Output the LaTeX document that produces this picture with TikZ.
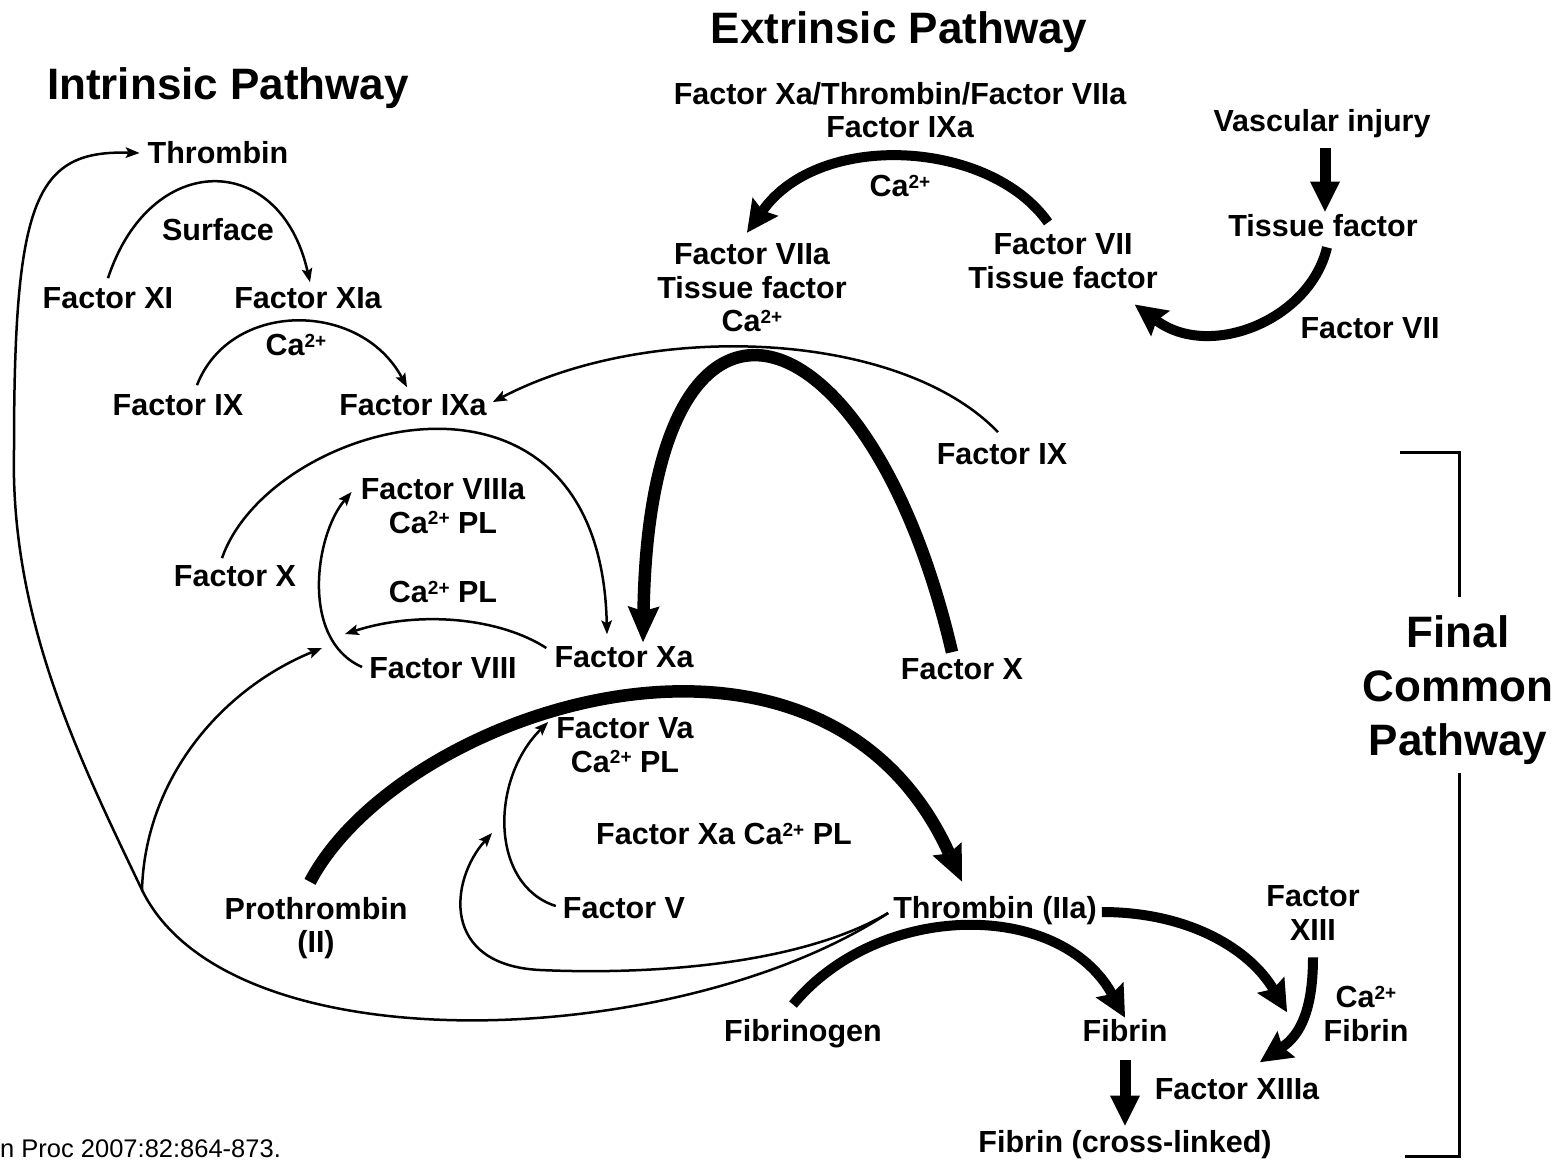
\documentclass[tikz,border=0pt]{standalone}
\usepackage{fontspec}
\setmainfont{Liberation Sans}
\usetikzlibrary{arrows.meta}
\newcommand\catwo{Ca\raisebox{8.5pt}{\fontsize{19}{19}\selectfont 2+}}
\begin{document}
\begin{tikzpicture}[x=1pt,y=-1pt,
  lab/.style={font=\fontsize{30.5}{33.5}\selectfont\bfseries, align=center, inner sep=0pt},
  ttl/.style={font=\fontsize{44}{54}\selectfont\bfseries, align=center, inner sep=0pt},
  thinarr/.style={line width=2.5pt, -{Stealth[length=14pt,width=11pt,inset=3pt,line width=0pt]}},
  thinln/.style={line width=2.5pt},
  bigarr/.style={line width=10pt, -{Stealth[length=32pt,width=32pt,inset=5pt,line width=0pt]}},
  hugearr/.style={line width=12.5pt, -{Stealth[length=36pt,width=32pt,inset=5pt,line width=0pt]}},
  straightarr/.style={line width=11pt, -{Triangle[length=30pt,width=30pt,line width=0pt]}},
  brk/.style={line width=3pt}
]
\useasboundingbox (0,0) rectangle (1564,1160);

% titles
\node[ttl] (ext) at (899,32) {Extrinsic Pathway};
\node[ttl] (intr) at (228,88) {Intrinsic Pathway};
\node[ttl] (fcp) at (1458,690) {Final\\Common\\Pathway};

% extrinsic
\node[lab] (fxatv) at (900,110) {Factor Xa/Thrombin/Factor VIIa\\Factor IXa};
\node[lab] (vasc) at (1322,124) {Vascular injury};
\node[lab] (tf) at (1323,226) {Tissue factor};
\node[lab] (cae) at (900,186) {\catwo};
\node[lab] (fviitf) at (1063,261) {Factor VII\\Tissue factor};
\node[lab] (fviiatf) at (752,288) {Factor VIIa\\Tissue factor\\\catwo};
\node[lab] (fvii2) at (1370,328) {Factor VII};

% intrinsic
\node[lab] (thr1) at (218,153) {Thrombin};
\node[lab] (surf) at (218,230) {Surface};
\node[lab] (fxi) at (108,298) {Factor XI};
\node[lab] (fxia) at (308,298) {Factor XIa};
\node[lab] (ca1) at (296,345) {\catwo};
\node[lab] (fix1) at (178,405) {Factor IX};
\node[lab] (fixa) at (413,405) {Factor IXa};
\node[lab] (fix2) at (1002,454) {Factor IX};
\node[lab] (fviiia) at (443,506) {Factor VIIIa\\\catwo{} PL};
\node[lab] (fx1) at (235,576) {Factor X};
\node[lab] (capl) at (443,592) {\catwo{} PL};
\node[lab] (fviii) at (443,668) {Factor VIII};
\node[lab] (fxa) at (624,657) {Factor Xa};
\node[lab] (fx2) at (962,669) {Factor X};

% common
\node[lab] (fva) at (625,745) {Factor Va\\\catwo{} PL};
\node[lab] (fxacapl) at (724,834) {Factor Xa \catwo{} PL};
\node[lab] (proth) at (316,928) {Prothrombin\\(II)};
\node[lab] (fv) at (624,908) {Factor V};
\node[lab] (thr2) at (995,911) {Thrombin (IIa)};
\node[lab] (fxiii) at (1313,913) {Factor\\XIII};
\node[lab] (cafib) at (1366,1014) {\catwo\\Fibrin};
\node[lab] (fibg) at (803,1034) {Fibrinogen};
\node[lab] (fib) at (1125,1031) {Fibrin};
\node[lab] (fxiiia) at (1237,1089) {Factor XIIIa};
\node[lab] (fibcl) at (1125,1145) {Fibrin (cross-linked)};

\node[font=\fontsize{25.5}{26}\selectfont, anchor=base west, inner sep=0pt] (cite) at (0,1157) {n Proc 2007:82:864-873.};

% free ends
\coordinate (tgt8) at (345,634);
\coordinate (tgt8b) at (322,648);
\coordinate (tgt5) at (492,833);
\coordinate (jn) at (142,890);

% extrinsic arrows
\draw[straightarr] ([shift={(3,10)}]vasc.south) -- ([shift={(2,-3)}]tf.north);
\draw[bigarr] ([shift={(4,10)}]tf.south) .. controls (1310,320) and (1210,360) .. ([shift={(-23,16)}]fviitf.south east);
\draw[bigarr] ([shift={(-15,-11)}]fviitf.north) .. controls (990,140) and (820,130) .. ([shift={(-5,-11)}]fviiatf.north);

% intrinsic arrows
\draw[thinarr] ([shift={(0,-9)}]fxi.north) .. controls (150,150) and (280,150) .. ([shift={(2,-5)}]fxia.north);
\draw[thinarr] ([shift={(19,-9)}]fix1.north) .. controls (230,300) and (360,300) .. ([shift={(-6,-7)}]fixa.north);
\draw[thinarr] ([shift={(-4,-11)}]fix2.north) .. controls (900,330) and (650,320) .. ([shift={(6,-3)}]fixa.east);
\draw[thinarr] ([shift={(-13,-7)}]fx1.north) .. controls (270,420) and (600,330) .. ([shift={(-17,-12)}]fxa.north);
\draw[thinarr] ([shift={(-7,-1)}]fviii.west) .. controls (300,640) and (315,535) .. ([shift={(-9,-14)}]fviiia.west);
\draw[thinarr] ([shift={(-8,-9)}]fxa.west) .. controls (500,618) and (420,610) .. (tgt8);
\draw[hugearr] ([shift={(-10,-6)}]fx2.north) .. controls (870,300) and (650,230) .. ([shift={(19,-4)}]fxa.north);

% common arrows
\draw[hugearr] ([shift={(-6,-15)}]proth.north) .. controls (400,710) and (820,570) .. ([shift={(-33,-15)}]thr2.north);
\draw[thinarr] ([shift={(-7,-2)}]fv.west) .. controls (490,885) and (490,780) .. ([shift={(-8,-23)}]fva.west);
\draw[thinarr] ([shift={(-5,2)}]thr2.west) .. controls (800,965) and (650,975) .. (540,970) .. controls (440,965) and (450,880) .. (tgt5);
\draw[thinarr] ([shift={(-5,2)}]thr2.west) .. controls (680,1050) and (230,1070) .. (jn) .. controls (80,760) and (10,620) .. (14,450) .. controls (14,200) and (35,150) .. ([shift={(-8,0)}]thr1.west);
\draw[thinarr] (jn) .. controls (145,780) and (220,690) .. (tgt8b);
\draw[bigarr] ([shift={(-10,-15)}]fibg.north) .. controls (880,900) and (1060,900) .. ([shift={(0,-2)}]fib.north);
\draw[bigarr] ([shift={(5,1)}]thr2.east) .. controls (1190,912) and (1250,950) .. ([shift={(50,-66)}]fxiiia.north);
\draw[bigarr] ([shift={(0,17)}]fxiii.south) .. controls (1313,1010) and (1300,1035) .. ([shift={(23,-16)}]fxiiia.north);
\draw[straightarr] ([shift={(0,18)}]fib.south) -- ([shift={(0,-5)}]fibcl.north);

% bracket
\draw[brk] (1400,452) -- (1459,452) -- (1459,597);
\draw[brk] (1459,773) -- (1459,1156) -- (1405,1156);
\end{tikzpicture}
\end{document}
